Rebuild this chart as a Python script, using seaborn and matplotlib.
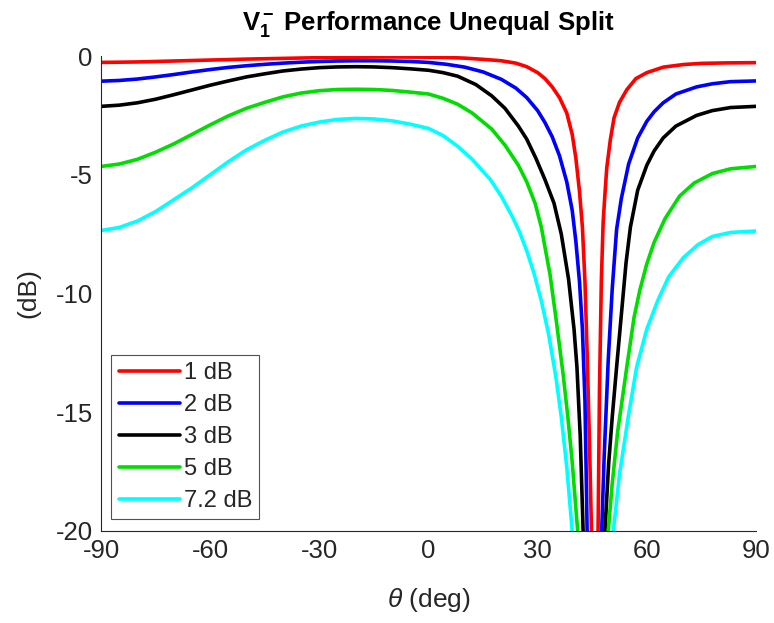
import numpy as np
import pandas as pd
import matplotlib
matplotlib.use("Agg")
import matplotlib.pyplot as plt
import seaborn as sns

labels = ["1 dB", "2 dB", "3 dB", "5 dB", "7.2 dB"]
colors = ["#ff0000", "#0000ff", "#000000", "#00dd00", "#00ffff"]

x_1db = [-90, -80, -70, -60, -50, -40, -30, -20, -10, 0, 5, 10, 15, 20, 24, 27, 30, 32, 34, 36, 38, 39.5,
         40.5, 41.5, 42.3, 43, 43.6, 44.2, 44.8, 45.7, 46.6, 47.0, 47.5, 48, 48.5, 49, 50, 51, 52.5, 54.5, 57,
         60, 64.5, 70, 75, 82, 90]
y_1db = [-0.27, -0.25, -0.21, -0.17, -0.13, -0.1, -0.07, -0.05, -0.04, -0.05, -0.06, -0.09, -0.14, -0.2, -0.3,
         -0.45, -0.7, -0.95, -1.3, -1.75, -2.4, -3.3, -4.3, -5.7, -7.2, -9.5, -12.5, -16, -20, -40, -20, -14,
         -9.5, -7, -5.8, -4.7, -3.5, -2.6, -1.95, -1.42, -0.95, -0.7, -0.47, -0.36, -0.31, -0.29, -0.28]

x_2db = [-90, -85, -80, -75, -70, -65, -60, -55, -50, -45, -40, -35, -30, -25, -20, -15, -10, -5, 0, 5, 10, 15,
         20, 24, 27, 30, 32, 34, 36, 38, 39.5, 40.5, 41.5, 42.3, 43, 43.6, 45.6, 47.6, 48.3, 49.4, 50.5, 51.7,
         53, 55, 57.5, 60, 62, 64.5, 68, 73.7, 78, 83, 90]
y_2db = [-1.06, -1.03, -0.97, -0.88, -0.78, -0.67, -0.57, -0.48, -0.41, -0.35, -0.3, -0.26, -0.23, -0.21, -0.2,
         -0.2, -0.21, -0.23, -0.27, -0.35, -0.47, -0.67, -0.98, -1.35, -1.75, -2.3, -2.8, -3.4, -4.2, -5.3,
         -6.5, -7.8, -9.5, -11.5, -14.5, -20, -40, -20, -16.8, -12.8, -9.8, -7.3, -6.0, -4.55, -3.45, -2.75,
         -2.35, -1.97, -1.6, -1.3, -1.17, -1.08, -1.05]

x_3db = [-90, -85, -80, -75, -70, -65, -60, -55, -50, -45, -40, -35, -30, -25, -20, -15, -10, -5, 0, 4, 8, 13,
         17.4, 21, 24.7, 27, 29.5, 32, 34.5, 36.5, 38.5, 40, 40.8, 41.7, 42.5, 45.5, 48.5, 49.5, 50.5, 51.7, 53,
         54.3, 55.5, 57.5, 60, 62, 64.5, 68, 73.7, 78, 83, 90]
y_3db = [-2.12, -2.07, -1.97, -1.82, -1.63, -1.43, -1.23, -1.05, -0.88, -0.75, -0.63, -0.55, -0.49, -0.46, -0.45,
         -0.46, -0.49, -0.54, -0.6, -0.7, -0.85, -1.2, -1.68, -2.2, -2.95, -3.5, -4.3, -5.2, -6.2, -7.5, -9.4,
         -11.5, -13.1, -16, -20, -40, -20, -17.2, -15.2, -13.1, -10.9, -8.7, -7.2, -5.65, -4.6, -4.0, -3.45,
         -2.95, -2.5, -2.3, -2.17, -2.12]

x_5db = [-90, -85, -80, -75, -70, -65, -60, -55, -50, -45, -40, -35, -30, -25, -20, -15, -10, -5, 0, 4, 8, 12,
         17.4, 21, 24.7, 27, 29.3, 31, 33.4, 35, 37, 38.3, 39.5, 41, 45.2, 49.4, 50.5, 52, 54.5, 56.5, 58.1, 60,
         62, 65, 69, 73, 78, 83, 90]
y_5db = [-4.65, -4.55, -4.35, -4.05, -3.7, -3.3, -2.9, -2.52, -2.2, -1.95, -1.72, -1.56, -1.46, -1.41, -1.4,
         -1.41, -1.45, -1.52, -1.6, -1.78, -2.03, -2.4, -3.08, -3.75, -4.6, -5.3, -6.2, -7.2, -9.2, -11, -13.4,
         -15.2, -17.1, -20, -40, -20, -18, -15.8, -13.1, -11.0, -9.85, -8.75, -7.85, -6.85, -5.9, -5.35, -4.95,
         -4.75, -4.65]

x_7db = [-90, -85, -80, -75, -70, -65, -60, -55, -50, -45, -40, -35, -30, -25, -20, -15, -10, -5, 0, 4, 8, 12,
         17, 20, 23, 25, 27, 29, 31, 33, 35, 36.5, 38, 39.5, 45.1, 50.8, 52.5, 55, 57.2, 60, 63, 66, 70, 74, 78,
         83, 90]
y_7db = [-7.35, -7.22, -6.95, -6.55, -6.05, -5.55, -5.0, -4.45, -3.95, -3.55, -3.2, -2.95, -2.78, -2.67, -2.63,
         -2.65, -2.73, -2.87, -3.05, -3.35, -3.8, -4.35, -5.2, -5.9, -6.75, -7.4, -8.2, -9.15, -10.3, -11.7,
         -13.5, -15.2, -17.3, -20, -40, -20, -17.6, -15.1, -13.1, -11.5, -10.3, -9.3, -8.5, -7.95, -7.6, -7.43,
         -7.37]

xs = [x_1db, x_2db, x_3db, x_5db, x_7db]
ys = [y_1db, y_2db, y_3db, y_5db, y_7db]

frames = []
for lab, xv, yv in zip(labels, xs, ys):
    frames.append(pd.DataFrame({"theta": xv, "dB": yv, "split": lab}))
df = pd.concat(frames, ignore_index=True)

sns.set_style("white")
plt.rcParams["font.family"] = ["Liberation Sans", "DejaVu Sans"]
plt.rcParams["axes.unicode_minus"] = False
plt.rcParams["mathtext.fontset"] = "custom"
plt.rcParams["mathtext.rm"] = "Liberation Sans"
plt.rcParams["mathtext.it"] = "Liberation Sans:italic"
plt.rcParams["mathtext.bf"] = "Liberation Sans:bold"

fig = plt.figure(figsize=(7.74, 6.23), dpi=100)
ax = fig.add_axes([0.1305, 0.1477, 0.8462, 0.7624])

sns.lineplot(data=df, x="theta", y="dB", hue="split", palette=dict(zip(labels, colors)),
             sort=False, estimator=None, linewidth=2.6, ax=ax, legend=True)

ax.set_xlim(-90, 90)
ax.set_ylim(-20, 0)
ax.set_xticks([-90, -60, -30, 0, 30, 60, 90])
ax.set_yticks([0, -5, -10, -15, -20])
ax.tick_params(axis="both", direction="in", length=4, width=0.8, color="#262626",
               labelsize=18.5, labelcolor="#262626", pad=6)
for s in ["top", "right"]:
    ax.spines[s].set_visible(False)
for s in ["left", "bottom"]:
    ax.spines[s].set_color("#262626")
    ax.spines[s].set_linewidth(0.8)

ax.set_xlabel(r"$\mathit{\theta}$ (deg)", fontsize=19, color="#262626", labelpad=16)
ax.set_ylabel("(dB)", fontsize=19, color="#262626", labelpad=11)
ax.set_title(r"$\mathbf{V_1^-}$ Performance Unequal Split", fontsize=18.5, fontweight="bold",
             color="#000000", pad=19)

leg = ax.legend(loc="lower left", bbox_to_anchor=(0.016, 0.025), fontsize=17, frameon=True,
                fancybox=False, edgecolor="#262626", handlelength=2.6, handletextpad=0.15,
                labelspacing=0.42, borderpad=0.3, borderaxespad=0)
leg.get_frame().set_linewidth(0.8)

fig.savefig("out.png", dpi=100)
